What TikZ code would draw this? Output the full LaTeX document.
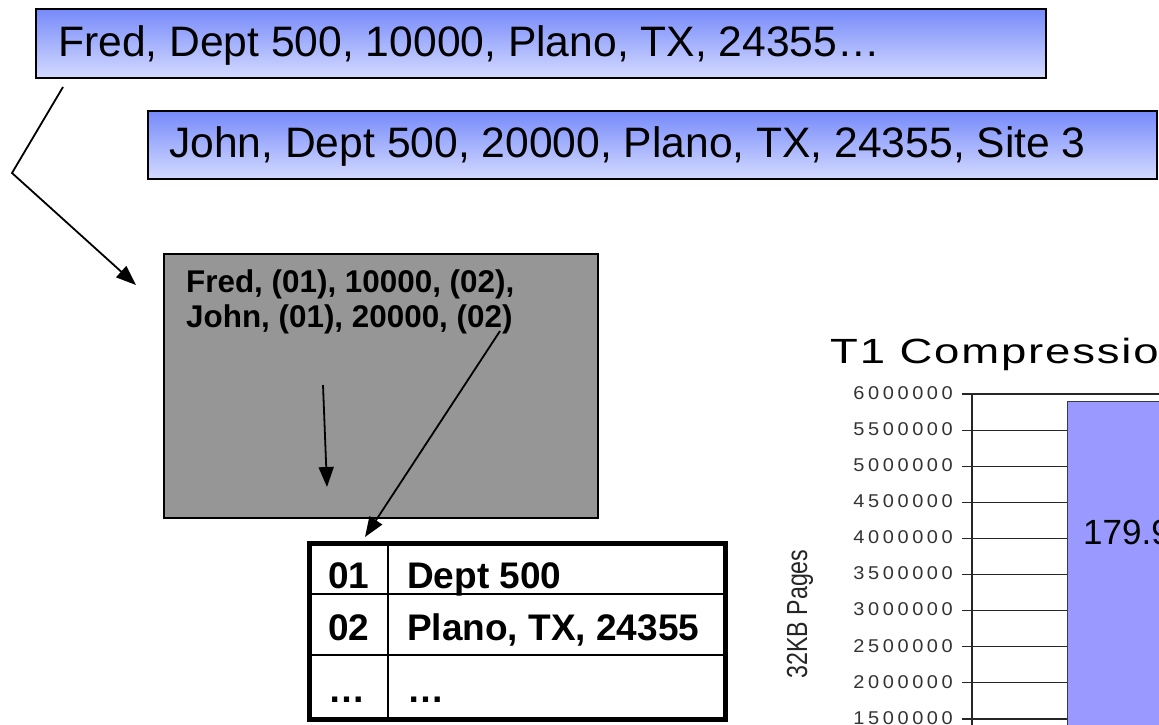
\documentclass[tikz,border=0pt]{standalone}
\usepackage{fontspec}
\setmainfont{Liberation Sans}
\newfontfamily\tickfont[LetterSpace=18]{Liberation Sans}
\newfontfamily\titlefont[LetterSpace=4]{Liberation Sans}
\usetikzlibrary{arrows.meta}
\definecolor{btop}{RGB}{118,138,250}
\definecolor{bbot}{RGB}{212,218,255}
\definecolor{grayfill}{RGB}{150,150,150}
\definecolor{barblue}{RGB}{153,153,255}
\definecolor{bardraw}{RGB}{60,60,60}
\tikzset{
  bluebox/.style={draw=black, line width=1.6pt, top color=btop, bottom color=bbot, shading angle=0, rectangle, inner sep=0pt},
  graybox/.style={draw=black, line width=1.8pt, fill=grayfill, rectangle, inner sep=0pt},
  bigtxt/.style={font=\fontsize{42.6}{48}\selectfont, inner sep=0pt, anchor=base west},
  boldtxt/.style={font=\fontsize{31.4}{36}\selectfont\bfseries, inner sep=0pt, anchor=base west},
  tabtxt/.style={font=\fontsize{37}{42}\selectfont\bfseries, inner sep=0pt, anchor=base west},
  arr/.style={line width=1.8pt, -{Triangle[length=20pt,width=15pt]}},
  ticklab/.style={font=\fontsize{18.5}{20}\selectfont\tickfont, text=black!80, inner sep=0pt, anchor=east},
  gridln/.style={line width=1.2pt, draw=black!85},
}
\begin{document}
\begin{tikzpicture}[x=1pt,y=-1pt]
\useasboundingbox (0,0) rectangle (1159,724);
\clip (0,0) rectangle (1159,724);
\fill[white] (0,0) rectangle (1159,724);

% top record boxes
\node[bluebox, minimum width=1010pt, minimum height=69pt, anchor=north west] (fredbox) at (35,8) {};
\node[bigtxt] (fredtxt) at (58,56) {Fred, Dept 500, 10000, Plano, TX, 24355…};
\node[bluebox, minimum width=1009pt, minimum height=68pt, anchor=north west] (johnbox) at (147,110) {};
\node[bigtxt] (johntxt) at (169,157) {John, Dept 500, 20000, Plano, TX, 24355, Site 3};

% compressed page
\node[graybox, minimum width=434pt, minimum height=264pt, anchor=north west] (page) at (163,253) {};
\node[boldtxt] (row1) at (186,292) {Fred, (01), 10000, (02),};
\node[boldtxt] (row2) at (186,327) {John, (01), 20000, (02)};

% dictionary table
\node[draw=black, line width=5pt, minimum width=416pt, minimum height=176pt, anchor=north west, inner sep=0pt] (dict) at (307,541) {};
\draw[line width=2pt] (dict.north west) ++(81,0) coordinate (colt) -- (colt |- dict.south);
\draw[line width=2pt] (dict.north west) ++(0,53) coordinate (r1) -- (r1 -| dict.east);
\draw[line width=2pt] (dict.north west) ++(0,114) coordinate (r2) -- (r2 -| dict.east);
\node[tabtxt] (k1) at (328,588) {01};
\node[tabtxt] (v1) at (407,588) {Dept 500};
\node[tabtxt] (k2) at (328,640) {02};
\node[tabtxt] (v2) at (407,640) {Plano, TX, 24355};
\node[tabtxt] (k3) at (328,702) {…};
\node[tabtxt] (v3) at (407,702) {…};

% connectors
\coordinate (a0) at (63,87);
\coordinate (a1) at (12,173);
\coordinate (a2) at (136,285);
\draw[arr] (a0) -- (a1) -- (a2);
\coordinate (b0) at (323,385);
\coordinate (b1) at (327,487);
\draw[arr] (b0) -- (b1);
\coordinate (c0) at (500,331);
\coordinate (c1) at (365,537);
\draw[arr] (c0) -- (c1);

% chart
\node[font=\fontsize{35}{40}\selectfont\titlefont, inner sep=0pt, anchor=base west] (ctitle) at (830,363) {\scalebox{1.3}[1]{T1 Compressio}};
\node[rotate=90, font=\fontsize{29}{32}\selectfont, inner sep=0pt, text=black!85] (ytitle) at (800,614) {\scalebox{0.8}[1]{32KB Pages}};
\foreach \v [count=\i from 0] in {6000000,5500000,5000000,4500000,4000000,3500000,3000000,2500000,2000000,1500000} {
  \node[ticklab] (t\i) at (953,393+36.1*\i) {\scalebox{1.08}[1]{\v}};
  \draw[gridln] (962,394+36.1*\i) -- (1067,394+36.1*\i);
}
\draw[gridln] (1067,394) -- (1159,394);
\draw[line width=1.4pt, draw=black!85] (972,394) -- (972,730);
\node[draw=bardraw, line width=1.2pt, fill=barblue, minimum width=120pt, minimum height=340pt, anchor=north west, inner sep=0pt] (bar) at (1067,401) {};
\node[font=\fontsize{35}{40}\selectfont, inner sep=0pt, anchor=base west] (barlab) at (1083,544) {179.9};
\end{tikzpicture}
\end{document}
